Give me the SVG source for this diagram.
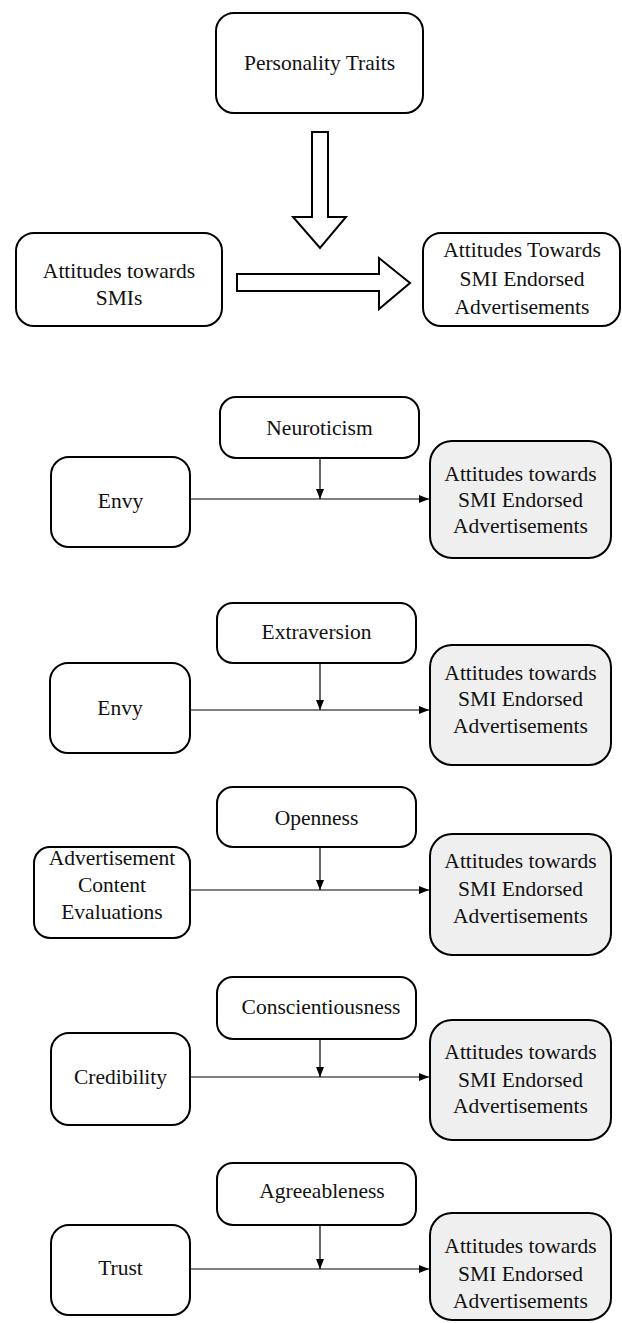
<svg xmlns="http://www.w3.org/2000/svg" width="622" height="1323" viewBox="0 0 622 1323">
<defs>
<marker id="ah" markerUnits="userSpaceOnUse" markerWidth="10" markerHeight="10" viewBox="0 0 10 10" refX="10" refY="5" orient="auto">
<path d="M0,1 L10,5 L0,9 Z" fill="#000"/>
</marker>
</defs>
<style>
.box{fill:#fff;stroke:#000;stroke-width:2}
.gbox{fill:#efefef;stroke:#000;stroke-width:2}
.hollow{fill:#fff;stroke:#000;stroke-width:2;stroke-linejoin:miter}
text{font-family:'Liberation Serif', Tinos, 'DejaVu Serif', serif;font-size:21.5px;fill:#111;text-anchor:middle}
.c{stroke:#000;stroke-width:1.2;fill:none;marker-end:url(#ah)}
</style>
<rect width="622" height="1323" fill="#fff"/>
<g font-family="Liberation Serif" font-size="21.5">
<g id="personality">
<rect class="box" x="216" y="13" width="207" height="100" rx="18"/>
<text x="319.5" y="70">Personality Traits</text>
</g>
<g id="smis">
<rect class="box" x="16" y="233" width="206" height="93" rx="18"/>
<text x="119" y="278">Attitudes towards</text>
<text x="119" y="305">SMIs</text>
</g>
<g id="ads-top">
<rect class="box" x="423" y="233" width="197" height="93" rx="18"/>
<text x="522" y="257">Attitudes Towards</text>
<text x="522" y="286">SMI Endorsed</text>
<text x="522" y="314">Advertisements</text>
</g>

<g id="neuroticism">
<rect class="box" x="220" y="397" width="199" height="61" rx="16"/>
<text x="319.5" y="435">Neuroticism</text>
</g>
<g id="envy1">
<rect class="box" x="51" y="457" width="139" height="90" rx="18"/>
<text x="120.5" y="508">Envy</text>
</g>
<g id="ads1">
<rect class="gbox" x="430" y="441" width="181" height="117" rx="22"/>
<text x="520.5" y="481">Attitudes towards</text>
<text x="520.5" y="507">SMI Endorsed</text>
<text x="520.5" y="533">Advertisements</text>
</g>

<g id="extraversion">
<rect class="box" x="217" y="603" width="199" height="60" rx="16"/>
<text x="316.5" y="639">Extraversion</text>
</g>
<g id="envy2">
<rect class="box" x="50" y="663" width="140" height="90" rx="18"/>
<text x="120" y="715">Envy</text>
</g>
<g id="ads2">
<rect class="gbox" x="430" y="645" width="181" height="120" rx="22"/>
<text x="520.5" y="680">Attitudes towards</text>
<text x="520.5" y="706">SMI Endorsed</text>
<text x="520.5" y="733">Advertisements</text>
</g>

<g id="openness">
<rect class="box" x="217" y="787" width="199" height="60" rx="16"/>
<text x="316.5" y="825">Openness</text>
</g>
<g id="adcontent">
<rect class="box" x="34" y="847" width="156" height="91" rx="16"/>
<text x="112" y="865">Advertisement</text>
<text x="112" y="892">Content</text>
<text x="112" y="919">Evaluations</text>
</g>
<g id="ads3">
<rect class="gbox" x="430" y="834" width="181" height="121" rx="22"/>
<text x="520.5" y="868">Attitudes towards</text>
<text x="520.5" y="896">SMI Endorsed</text>
<text x="520.5" y="923">Advertisements</text>
</g>

<g id="conscientiousness">
<rect class="box" x="217" y="977" width="199" height="62" rx="16"/>
<text x="321" y="1014">Conscientiousness</text>
</g>
<g id="credibility">
<rect class="box" x="51" y="1033" width="139" height="92" rx="18"/>
<text x="120.5" y="1084">Credibility</text>
</g>
<g id="ads4">
<rect class="gbox" x="430" y="1020" width="181" height="120" rx="22"/>
<text x="520.5" y="1059">Attitudes towards</text>
<text x="520.5" y="1087">SMI Endorsed</text>
<text x="520.5" y="1113">Advertisements</text>
</g>

<g id="agreeableness">
<rect class="box" x="217" y="1163" width="199" height="62" rx="16"/>
<text x="322" y="1198">Agreeableness</text>
</g>
<g id="trust">
<rect class="box" x="51" y="1225" width="139" height="90" rx="18"/>
<text x="120.5" y="1275">Trust</text>
</g>
<g id="ads5">
<rect class="gbox" x="430" y="1213" width="181" height="107" rx="22"/>
<text x="520.5" y="1253">Attitudes towards</text>
<text x="520.5" y="1281">SMI Endorsed</text>
<text x="520.5" y="1308">Advertisements</text>
</g>
</g>
<g id="connectors">
<polygon class="hollow" points="312,132 328,132 328,217 346,217 320,248 293,217 312,217"/>
<polygon class="hollow" points="237,274 379,274 379,258 410,283 379,309 379,291 237,291"/>
<line class="c" x1="190" y1="499" x2="429" y2="499"/>
<line class="c" x1="320" y1="458" x2="320" y2="499"/>
<line class="c" x1="190" y1="710" x2="429" y2="710"/>
<line class="c" x1="320" y1="663" x2="320" y2="710"/>
<line class="c" x1="190" y1="890" x2="429" y2="890"/>
<line class="c" x1="320" y1="847" x2="320" y2="890"/>
<line class="c" x1="190" y1="1077" x2="429" y2="1077"/>
<line class="c" x1="320" y1="1039" x2="320" y2="1077"/>
<line class="c" x1="190" y1="1269" x2="429" y2="1269"/>
<line class="c" x1="320" y1="1225" x2="320" y2="1269"/>
</g>
</svg>
